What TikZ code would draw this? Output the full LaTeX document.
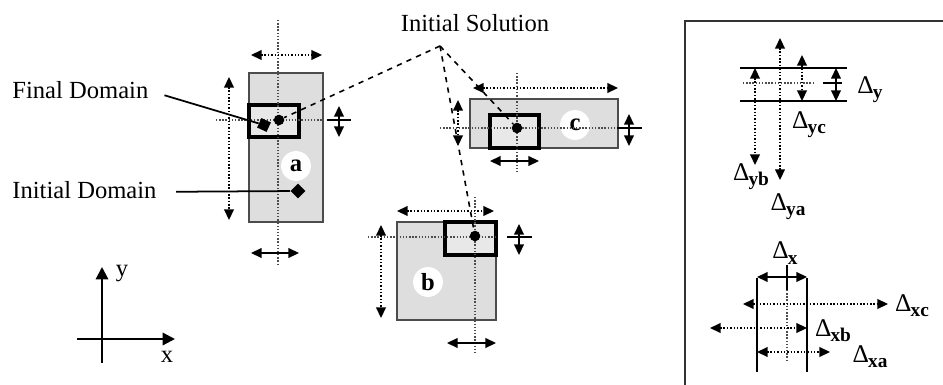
\documentclass[tikz,border=0pt]{standalone}
\usepackage{fontspec}
\setmainfont{Liberation Serif}
\usetikzlibrary{arrows.meta,shapes.geometric,positioning}
\newcommand{\dsym}{Δ}
\newcommand{\dl}[1]{\dsym\kern-0.5pt\raisebox{-0.45ex}{\fontsize{11}{12}\selectfont\bfseries #1}}

\begin{document}
\begin{tikzpicture}[x=0.02cm,y=-0.02cm,
  dom/.style={draw=black!70,line width=1.1pt,fill=black!13},
  fin/.style={draw=black,line width=1.8pt,fill=black!9},
  guide/.style={densely dotted,line width=0.8pt,black!70},
  span/.style={densely dotted,line width=0.9pt,{Triangle[length=6pt,width=5.5pt]}-{Triangle[length=6pt,width=5.5pt]}},
  tick/.style={line width=0.9pt,{Triangle[length=6pt,width=5.5pt]}-{Triangle[length=6pt,width=5.5pt]}},
  lead/.style={dashed,line width=0.9pt},
  pt/.style={circle,fill=black,inner sep=0pt,minimum size=6pt},
  dmd/.style={diamond,fill=black,inner sep=0pt,minimum size=8.5pt},
  lbl/.style={circle,fill=white,inner sep=0pt,minimum size=17pt,font=\fontsize{14}{15}\selectfont\bfseries},
  txt/.style={font=\fontsize{14}{17}\selectfont,inner sep=0pt},
  dtxt/.style={font=\fontsize{14.5}{16}\selectfont,inner sep=0pt}]
\useasboundingbox (0,0) rectangle (943,385);

% domain a
\draw[dom] (249,73) rectangle (323,222);
\node[lbl] (la) at (296,166) {a};
\draw[fin] (249,105) rectangle (299,137);
\draw[guide] (278,20) -- (278,265);
\draw[guide] (216,120) -- (323,120);
\draw[line width=0.9pt] (327,120) -- (351,120);
\draw[span] (251,55) -- (322,55);
\draw[span] (229,77) -- (229,220);
\draw[tick] (339,106) -- (339,137);
\draw[tick] (251,253) -- (299,253);
\node[pt] (pa) at (279,120) {};
\node[dmd,rotate=20] (dfin) at (264,125) {};
\node[dmd] (dini) at (298,191) {};

% domain b
\draw[dom] (397,222) rectangle (496,320);
\node[lbl] (lb) at (428,282) {b};
\draw[fin] (445,222) rectangle (496,255);
\draw[guide] (475,197) -- (475,355);
\draw[guide] (368,237) -- (496,237);
\draw[line width=0.9pt] (507,237) -- (532,237);
\draw[span] (397,211) -- (494,211);
\draw[span] (381,225) -- (381,318);
\draw[tick] (519,224) -- (519,255);
\draw[tick] (447,343) -- (496,343);
\node[pt] (pb) at (475,236) {};

% domain c
\draw[dom] (470,99) rectangle (618,148);
\node[lbl] (lc) at (575,125) {c};
\draw[fin] (490,115) rectangle (539,148);
\draw[guide] (517,73) -- (517,172);
\draw[guide] (440,128) -- (618,128);
\draw[line width=0.9pt] (617,128) -- (642,128);
\draw[span] (473,88) -- (618,88);
\draw[span] (458,100) -- (458,146);
\draw[tick] (629,114) -- (629,146);
\draw[tick] (490,161) -- (539,161);
\node[pt] (pc) at (517,128) {};

% labels and leaders
\node[txt] (isol) at (475,23) {Initial Solution};
\coordinate (foc) at (440,46);
\draw[lead] (foc) -- (pa);
\draw[lead] (foc) -- (pb);
\draw[lead] (foc) -- (pc);
\node[txt,anchor=west] (fdom) at (12,90) {Final Domain};
\node[txt,anchor=west] (idom) at (12,190) {Initial Domain};
\draw[line width=1pt] ([xshift=9pt,yshift=-3pt]fdom.east) -- (dfin);
\draw[line width=1pt] ([xshift=11pt,yshift=-1pt]idom.east) -- (dini);

% axes
\coordinate (o) at (102,339);
\draw[line width=1.2pt,-{Triangle[length=7pt,width=7pt]}] (102,363) -- (102,267);
\draw[line width=1.2pt,-{Triangle[length=7pt,width=7pt]}] (77,339) -- (175,339);
\node[txt] (ay) at (122,274) {y};
\node[txt] (ax) at (167,357) {x};

% right panel
\draw[line width=1.1pt,black!80] (685,385) -- (685,21) -- (943,21);
\draw[line width=0.8pt] (740,68) -- (847,68);
\draw[line width=0.8pt] (740,101) -- (847,101);
\draw[guide] (743,83) -- (813,83);
\draw[line width=0.9pt] (823,83) -- (842,83);
\draw[tick] (836,68) -- (836,101);
\draw[span] (802,55) -- (802,101);
\draw[span] (780,38) -- (780,180);
\draw[span] (755,68) -- (755,165);
\node[dtxt] (dy) at (870,90) {\dl{y}};
\node[dtxt] (dyc) at (809,125) {\dl{yc}};
\node[dtxt] (dyb) at (751,177) {\dl{yb}};
\node[dtxt] (dya) at (788,207) {\dl{ya}};

\draw[line width=1.5pt] (757,278) -- (757,372);
\draw[line width=1.5pt] (807,278) -- (807,372);
\draw[tick] (757,277) -- (807,277);
\draw[line width=0.8pt] (787,265) -- (787,290);
\draw[guide] (787,290) -- (787,360);
\draw[span] (743,304) -- (888,304);
\draw[span] (710,328) -- (807,328);
\draw[span] (757,352) -- (830,352);
\node[dtxt] (dx) at (785,253) {\dl{x}};
\node[dtxt] (dxc) at (912,306) {\dl{xc}};
\node[dtxt] (dxb) at (833,331) {\dl{xb}};
\node[dtxt] (dxa) at (870,357) {\dl{xa}};
\end{tikzpicture}
\end{document}
